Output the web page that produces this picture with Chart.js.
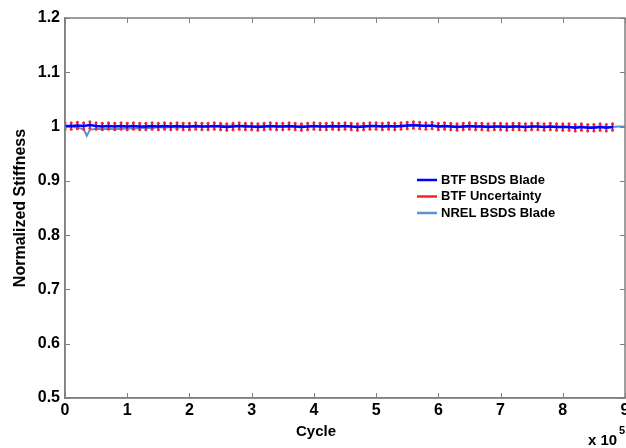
<!DOCTYPE html>
<html>
<head>
<meta charset="utf-8">
<script src="https://cdn.jsdelivr.net/npm/chart.js@4.4.1/dist/chart.umd.min.js"></script>
<style>
  body { margin: 0; background: #fff; }
  #wrap { width: 626px; height: 448px; overflow: hidden; position: relative; }
</style>
</head>
<body>
<div id="wrap"><canvas id="stiffnessChart" width="640" height="448"></canvas></div>
<script>
// Cycle axis is in units of 10^5 cycles
const xTicks = [0, 1, 2, 3, 4, 5, 6, 7, 8, 9];
const xTickLabels = ["0", "1", "2", "3", "4", "5", "6", "7", "8", "9"];
const yTicks = [0.5, 0.6, 0.7, 0.8, 0.9, 1.0, 1.1, 1.2];
const yTickLabels = ["0.5", "0.6", "0.7", "0.8", "0.9", "1", "1.1", "1.2"];

// BTF BSDS blade, one reading every 0.1 x 10^5 cycles
const btfCycles = [
  0.0, 0.1, 0.2, 0.3, 0.4, 0.5, 0.6, 0.7, 0.8, 0.9,
  1.0, 1.1, 1.2, 1.3, 1.4, 1.5, 1.6, 1.7, 1.8, 1.9,
  2.0, 2.1, 2.2, 2.3, 2.4, 2.5, 2.6, 2.7, 2.8, 2.9,
  3.0, 3.1, 3.2, 3.3, 3.4, 3.5, 3.6, 3.7, 3.8, 3.9,
  4.0, 4.1, 4.2, 4.3, 4.4, 4.5, 4.6, 4.7, 4.8, 4.9,
  5.0, 5.1, 5.2, 5.3, 5.4, 5.5, 5.6, 5.7, 5.8, 5.9,
  6.0, 6.1, 6.2, 6.3, 6.4, 6.5, 6.6, 6.7, 6.8, 6.9,
  7.0, 7.1, 7.2, 7.3, 7.4, 7.5, 7.6, 7.7, 7.8, 7.9,
  8.0, 8.1, 8.2, 8.3, 8.4, 8.5, 8.6, 8.7, 8.8
];
const btfStiffness = [
  1.001, 1.001, 1.002, 1.001, 1.003, 1.001, 1.000, 1.001, 1.000, 1.001,
  1.000, 1.001, 1.000, 1.000, 1.001, 1.000, 1.001, 1.000, 1.001, 1.000,
  1.000, 1.001, 1.000, 1.000, 1.001, 1.000, 0.999, 1.000, 1.001, 1.000,
  1.000, 0.999, 1.000, 1.001, 1.000, 1.000, 1.001, 1.000, 0.999, 1.000,
  1.001, 1.000, 1.000, 1.001, 1.000, 1.001, 1.000, 0.999, 1.000, 1.001,
  1.001, 1.000, 1.001, 1.000, 1.001, 1.002, 1.003, 1.002, 1.001, 1.002,
  1.000, 1.001, 1.000, 0.999, 1.000, 1.001, 1.000, 1.000, 0.999, 1.000,
  1.000, 0.999, 1.000, 1.000, 0.999, 1.000, 1.000, 0.999, 1.000, 0.999,
  0.999, 0.999, 0.998, 0.999, 0.998, 0.998, 0.999, 0.998, 0.999
];
const btfUncertainty = 0.006;

// NREL BSDS blade
const nrelCycles = [
  0.0, 0.1, 0.2, 0.3, 0.35, 0.4, 0.5, 0.6, 0.7, 0.8, 0.9,
  1.0, 1.1, 1.2, 1.3, 1.4, 1.5, 1.6, 1.7, 1.8, 1.9,
  2.0, 2.1, 2.2, 2.3, 2.4, 2.5, 2.6, 2.7, 2.8, 2.9,
  3.0, 3.1, 3.2, 3.3, 3.4, 3.5, 3.6, 3.7, 3.8, 3.9,
  4.0, 4.1, 4.2, 4.3, 4.4, 4.5, 4.6, 4.7, 4.8, 4.9,
  5.0, 5.1, 5.2, 5.3, 5.4, 5.5, 5.6, 5.7, 5.8, 5.9,
  6.0, 6.1, 6.2, 6.3, 6.4, 6.5, 6.6, 6.7, 6.8, 6.9,
  7.0, 7.1, 7.2, 7.3, 7.4, 7.5, 7.6, 7.7, 7.8, 7.9,
  8.0, 8.1, 8.2, 8.3, 8.4, 8.5, 8.6, 8.7, 8.8, 8.9, 9.0
];
const nrelStiffness = [
  1.000, 1.000, 0.998, 0.995, 0.983, 0.994, 0.996, 0.995, 0.996, 0.995, 0.996,
  0.997, 0.996, 0.997, 0.998, 0.997, 0.999, 0.998, 0.999, 0.998, 0.999,
  1.000, 0.999, 1.000, 1.001, 1.000, 1.002, 1.001, 1.002, 1.001, 1.002,
  1.000, 1.001, 1.000, 1.000, 1.001, 1.000, 0.999, 1.000, 1.001, 1.000,
  1.000, 1.001, 1.000, 0.999, 1.000, 1.001, 1.000, 1.000, 1.001, 1.000,
  1.001, 1.000, 1.000, 1.001, 1.000, 1.001, 1.002, 1.001, 1.002, 1.001,
  1.000, 1.000, 1.001, 1.000, 0.999, 1.000, 1.000, 1.001, 1.000, 0.999,
  1.000, 1.000, 0.999, 1.000, 0.999, 1.000, 1.000, 0.999, 1.000, 0.999,
  1.000, 0.999, 0.999, 1.000, 0.999, 0.999, 1.000, 0.999, 0.999, 1.000, 1.000
];

const BLUE = "#0000ff";
const RED = "#ff2020";
const LIGHT_BLUE = "#5b94d2";
const AXIS_GREY = "#808080";
const FONT = "'Liberation Sans', Arial, sans-serif";

const btfPoints = btfCycles.map((c, i) => ({ x: c, y: btfStiffness[i] }));
const upperPoints = btfCycles.map((c, i) => ({ x: c, y: btfStiffness[i] + btfUncertainty }));
const lowerPoints = btfCycles.map((c, i) => ({ x: c, y: btfStiffness[i] - btfUncertainty }));
const nrelPoints = nrelCycles.map((c, i) => ({ x: c, y: nrelStiffness[i] }));

// vertical error bars: low -> high, then a gap
const errorBarPoints = [];
btfCycles.forEach((c, i) => {
  errorBarPoints.push({ x: c, y: lowerPoints[i].y });
  errorBarPoints.push({ x: c, y: upperPoints[i].y });
  errorBarPoints.push({ x: c, y: null });
});

const legendItems = [
  { text: "BTF BSDS Blade", color: BLUE },
  { text: "BTF Uncertainty", color: RED },
  { text: "NREL BSDS Blade", color: LIGHT_BLUE }
];

// box, inward ticks, legend and x-axis captions
const framePlugin = {
  id: "frame",
  afterDraw(chart) {
    const { ctx, chartArea: a, scales } = chart;
    ctx.save();
    ctx.strokeStyle = AXIS_GREY;
    ctx.lineWidth = 1.5;
    ctx.strokeRect(a.left, a.top, a.right - a.left, a.bottom - a.top);
    ctx.lineWidth = 1;
    ctx.beginPath();
    xTicks.forEach(t => {
      const px = Math.round(scales.x.getPixelForValue(t)) + 0.5;
      ctx.moveTo(px, a.bottom); ctx.lineTo(px, a.bottom - 5);
      ctx.moveTo(px, a.top); ctx.lineTo(px, a.top + 5);
    });
    yTicks.forEach(t => {
      const py = Math.round(scales.y.getPixelForValue(t)) + 0.5;
      ctx.moveTo(a.left, py); ctx.lineTo(a.left + 5, py);
      ctx.moveTo(a.right, py); ctx.lineTo(a.right - 5, py);
    });
    ctx.stroke();

    // legend
    ctx.font = "bold 13px " + FONT;
    ctx.textBaseline = "middle";
    ctx.textAlign = "left";
    legendItems.forEach((item, i) => {
      const y = 180 + i * 16.5;
      ctx.strokeStyle = item.color;
      ctx.lineWidth = 2.5;
      ctx.beginPath();
      ctx.moveTo(417, y); ctx.lineTo(437, y);
      ctx.stroke();
      ctx.fillStyle = "#000";
      ctx.fillText(item.text, 441, y);
    });

    // x-axis caption and exponent
    ctx.font = "bold 15px " + FONT;
    ctx.textAlign = "center";
    ctx.fillText("Cycle", 316, 432);
    ctx.textAlign = "left";
    ctx.fillText("x 10", 588, 441);
    ctx.font = "bold 11px " + FONT;
    ctx.fillText("5", 619, 431);
    ctx.restore();
  }
};

const ctx = document.getElementById("stiffnessChart").getContext("2d");

new Chart(ctx, {
  type: "line",
  data: {
    datasets: [
      {
        label: "BTF Uncertainty (upper)",
        data: upperPoints,
        showLine: false,
        pointRadius: 1.5,
        pointBackgroundColor: RED,
        pointBorderWidth: 0,
        order: 0
      },
      {
        label: "BTF Uncertainty (lower)",
        data: lowerPoints,
        showLine: false,
        pointRadius: 1.5,
        pointBackgroundColor: RED,
        pointBorderWidth: 0,
        order: 0
      },
      {
        label: "BTF BSDS Blade",
        data: btfPoints,
        borderColor: BLUE,
        borderWidth: 2.5,
        pointRadius: 0,
        tension: 0,
        order: 1
      },
      {
        label: "BTF error bars",
        data: errorBarPoints,
        borderColor: BLUE,
        borderWidth: 1.5,
        pointRadius: 0,
        spanGaps: false,
        order: 2
      },
      {
        label: "NREL BSDS Blade",
        data: nrelPoints,
        borderColor: LIGHT_BLUE,
        borderWidth: 2,
        pointRadius: 0,
        tension: 0,
        order: 3
      }
    ]
  },
  options: {
    responsive: false,
    animation: false,
    layout: { padding: { top: 18, right: 15, left: 0, bottom: 0 } },
    plugins: {
      legend: { display: false },
      tooltip: { enabled: false }
    },
    scales: {
      x: {
        type: "linear",
        min: 0,
        max: 9,
        afterBuildTicks: s => { s.ticks = xTicks.map(v => ({ value: v })); },
        afterFit: s => { s.height = 50; },
        grid: { display: false, drawTicks: false },
        border: { color: AXIS_GREY, width: 1.5 },
        ticks: {
          color: "#000",
          padding: 3,
          maxRotation: 0,
          callback: v => xTickLabels[xTicks.indexOf(v)],
          font: { family: FONT, size: 16, weight: "bold" }
        }
      },
      y: {
        type: "linear",
        min: 0.5,
        max: 1.2,
        afterBuildTicks: s => { s.ticks = yTicks.map(v => ({ value: v })); },
        afterFit: s => { s.width = 65; },
        grid: { display: false, drawTicks: false },
        border: { color: AXIS_GREY, width: 1.5 },
        ticks: {
          color: "#000",
          padding: 5,
          callback: v => yTickLabels[yTicks.findIndex(t => Math.abs(t - v) < 1e-9)],
          font: { family: FONT, size: 16, weight: "bold" }
        },
        title: {
          display: true,
          text: "Normalized Stiffness",
          color: "#000",
          padding: { top: 11, bottom: 0 },
          font: { family: FONT, size: 16, weight: "bold" }
        }
      }
    }
  },
  plugins: [framePlugin]
});
</script>
</body>
</html>
